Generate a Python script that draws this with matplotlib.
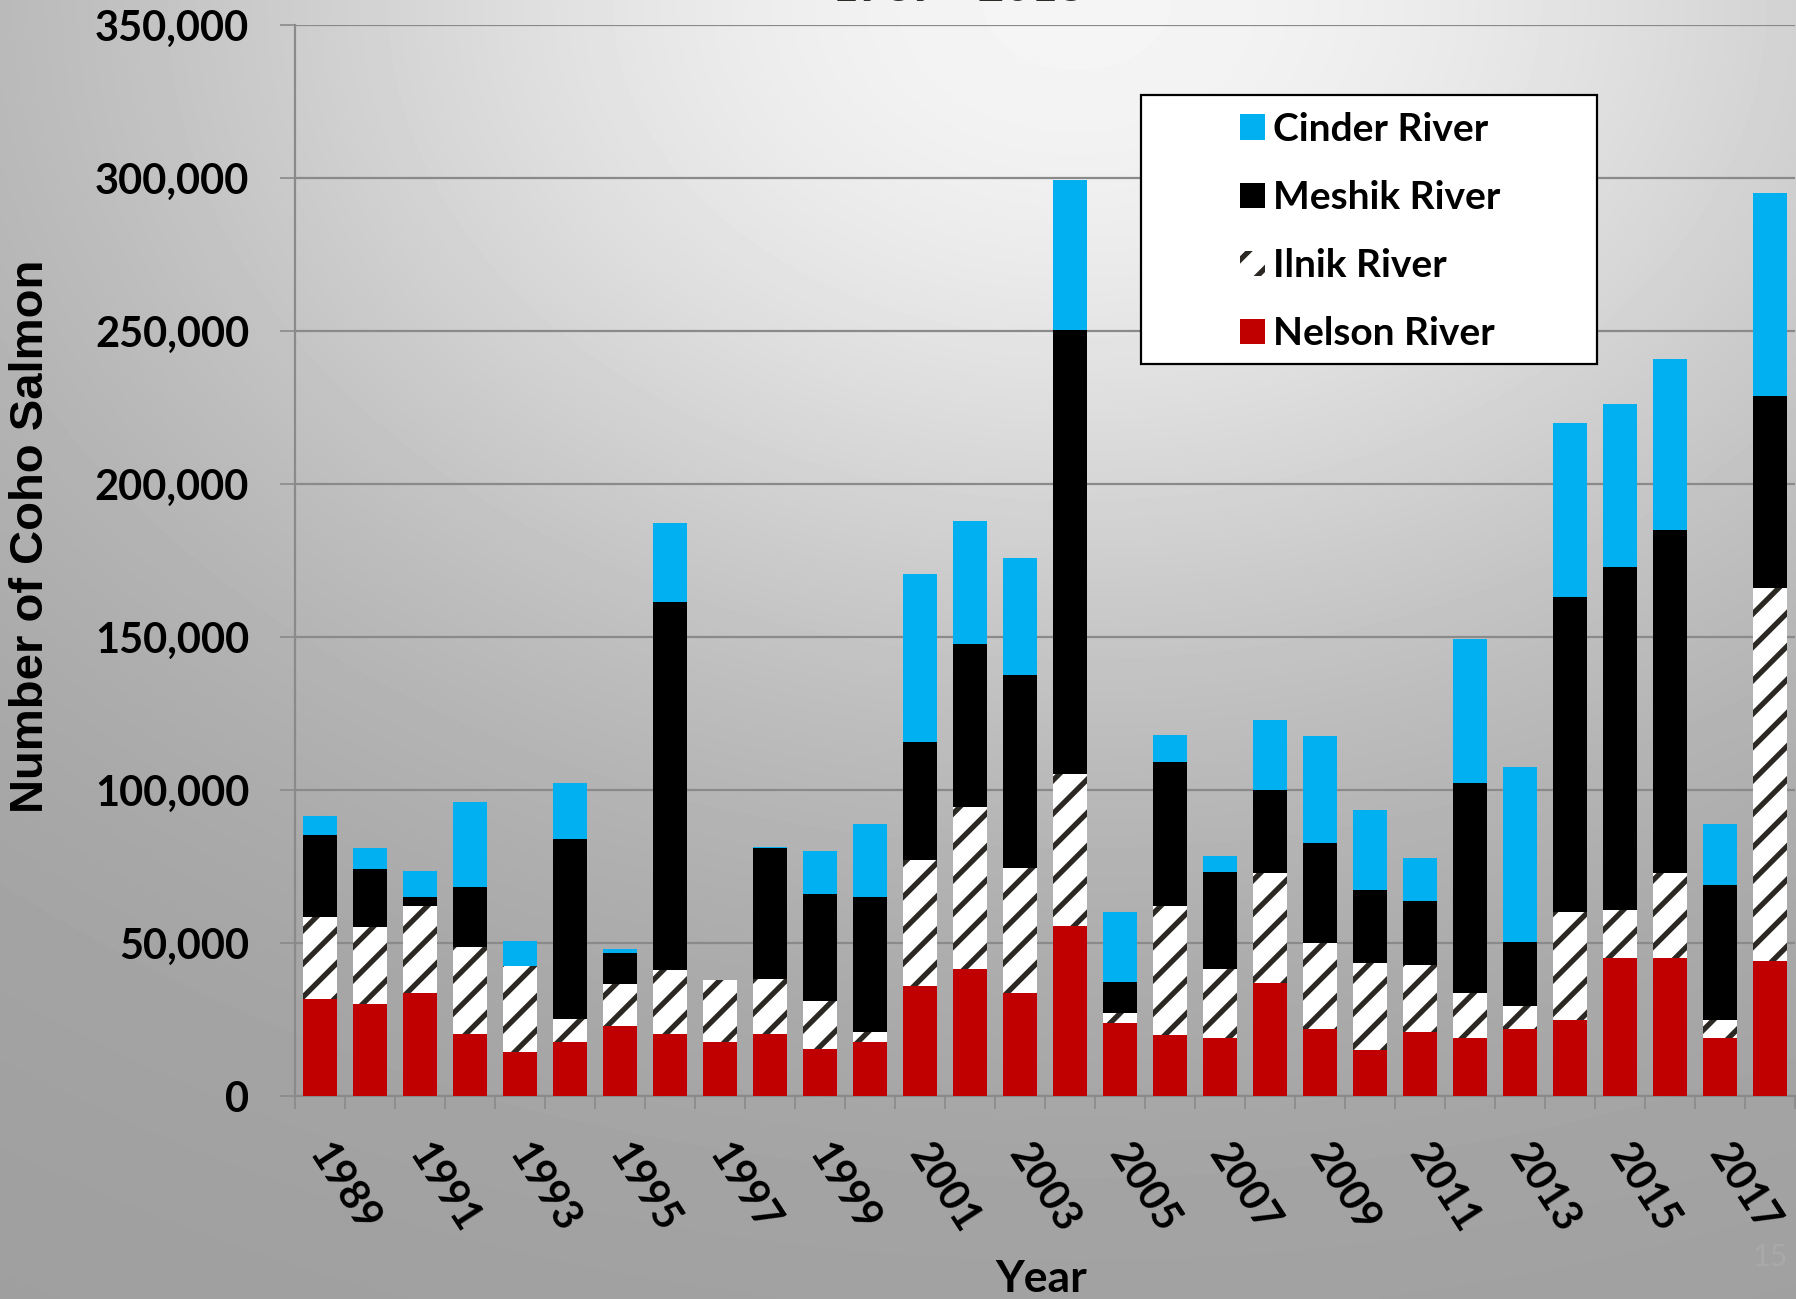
import numpy as np
import matplotlib
matplotlib.use('Agg')
import matplotlib.pyplot as plt
from matplotlib.patches import Rectangle
from matplotlib.ticker import FuncFormatter, FixedLocator
from matplotlib.font_manager import FontProperties

plt.rcParams['hatch.linewidth'] = 3.8

years = list(range(1989, 2019))
nelson = [31700, 30200, 33600, 20100, 14300, 17600, 23000, 20100, 17600, 20100,
          15500, 17600, 36000, 41600, 33800, 55600, 24000, 20000, 19000, 37000,
          22000, 15000, 21000, 19000, 21800, 24800, 45000, 45000, 19000, 44000]
ilnik = [26800, 25000, 28600, 28700, 28300, 7600, 13600, 21100, 20200, 18100,
         15700, 3400, 41000, 52800, 40800, 49600, 3200, 42000, 22400, 35800,
         28000, 28400, 21800, 14800, 7600, 35200, 15800, 27800, 5800, 122000]
meshik = [26800, 18900, 2900, 19600, 0, 58800, 10000, 120100, 0, 42900,
          34900, 43900, 38600, 53400, 63000, 145000, 10000, 47000, 31800, 27200,
          32600, 24000, 21000, 68600, 21000, 103000, 112000, 112200, 44000, 62800]
cinder = [6200, 7000, 8300, 27800, 8200, 18200, 1400, 25900, 0, 400,
          14000, 24000, 55000, 40000, 38200, 49000, 23000, 9000, 5200, 22800,
          35000, 26000, 14000, 47000, 57200, 57000, 53200, 56000, 20200, 66200]
series_names = ['Cinder River', 'Meshik River', 'Ilnik River', 'Nelson River']
tick_years = [str(y) for y in years[::2]]
y_ticks = [0, 50000, 100000, 150000, 200000, 250000, 300000, 350000]
title_text = '1989 - 2018'

W, H = 1796, 1299
fig = plt.figure(figsize=(W / 100, H / 100), dpi=100)

# background radial gradient
bg = fig.add_axes([0, 0, 1, 1], zorder=-10)
yy, xx = np.mgrid[0:1:300j, 0:1:400j]
d = np.sqrt((xx - 0.6) ** 2 + (yy * 1.0) ** 2)
v = 0.62 + 0.34 * np.exp(-(d / 0.56) ** 2)
bg.imshow(v, cmap='gray', vmin=0, vmax=1, extent=[0, 1, 0, 1], origin='upper',
          aspect='auto', interpolation='bilinear')
bg.axis('off')

ax = fig.add_axes([295 / W, (H - 1096) / H, 1500 / W, (1096 - 25) / H])
ax.set_facecolor('none')

x = np.arange(len(years))
bw = 0.67
nel = np.array(nelson)
il = np.array(ilnik)
me = np.array(meshik)
ci = np.array(cinder)
b_nel = ax.bar(x, nel, bw, color='#C00000', linewidth=0, zorder=3)
b_il = ax.bar(x, il, bw, bottom=nel, facecolor='white', edgecolor='#2b2722',
              linewidth=0, hatch='/', zorder=3)
b_me = ax.bar(x, me, bw, bottom=nel + il, color='#000000', linewidth=0, zorder=3)
b_ci = ax.bar(x, ci, bw, bottom=nel + il + me, color='#00B0F0', linewidth=0, zorder=3)

gc = '#8a8a8a'
ax.set_xlim(-0.5, len(years) - 0.5)
ax.set_ylim(0, 350000)
ax.set_yticks(y_ticks)
ax.yaxis.set_major_formatter(FuncFormatter(lambda val, p: f'{int(val):,}'))
ax.yaxis.grid(True, color=gc, linewidth=1.6, zorder=0)
ax.set_axisbelow(True)
for s in ['top', 'right']:
    ax.spines[s].set_visible(False)
for s in ['left', 'bottom']:
    ax.spines[s].set_color(gc)
    ax.spines[s].set_linewidth(1.6)

tickfont = dict(family='Lato', weight='bold', size=30)
ax.tick_params(axis='y', length=11, width=1.2, color=gc, pad=22)
for lab in ax.get_yticklabels():
    lab.set_fontproperties(FontProperties(**tickfont))

ax.set_xticks(x[::2])
ax.set_xticklabels(tick_years, rotation=-57, ha='left', va='center_baseline',
                   rotation_mode='anchor', **tickfont)
ax.xaxis.set_minor_locator(FixedLocator(np.arange(-0.5, len(years), 1.0)))
ax.tick_params(axis='x', which='major', length=0, pad=36)
ax.tick_params(axis='x', which='minor', length=9.5, width=1.2, color=gc)

ax.set_ylabel('Number of Coho Salmon', family='Liberation Sans', weight='bold', size=34)
ax.yaxis.label.set_va('center')
ax.yaxis.set_label_coords((31 - 295) / 1500, (1096 - 536) / 1071)
ax.set_xlabel('Year', family='Lato', weight='bold', size=32)
ax.xaxis.label.set_va('center')
ax.xaxis.set_label_coords((1041 - 295) / 1500, (1096 - 1279) / 1071)

# title cut at top
fig.text(958 / W, 1 - 1.0 / H, title_text, ha='center', va='baseline',
         family='Lato', weight='bold', size=33, color='#2e2a26')
# slide number
fig.text(1770 / W, 1 - 1257 / H, '15', ha='center', va='center',
         family='Lato', size=22, color='#a9a9a9')

# legend box
ax.add_patch(Rectangle((1141 / W, 1 - 364 / H), (1597 - 1141) / W, (364 - 95) / H,
                       transform=fig.transFigure, facecolor='white', edgecolor='black',
                       linewidth=1.6, clip_on=False, zorder=10))
handles = [b_ci, b_me, b_il, b_nel]
leg = ax.legend(handles, series_names, loc='upper left',
                bbox_to_anchor=(1240 / W, 1 - 112 / H), bbox_transform=fig.transFigure,
                frameon=False, prop=dict(family='Lato', weight='bold', size=28),
                handlelength=0.64, handleheight=0.64, handletextpad=0.22,
                labelspacing=0.85, borderpad=0, borderaxespad=0)
leg.set_zorder(11)

fig.savefig('out.png', dpi=100)
